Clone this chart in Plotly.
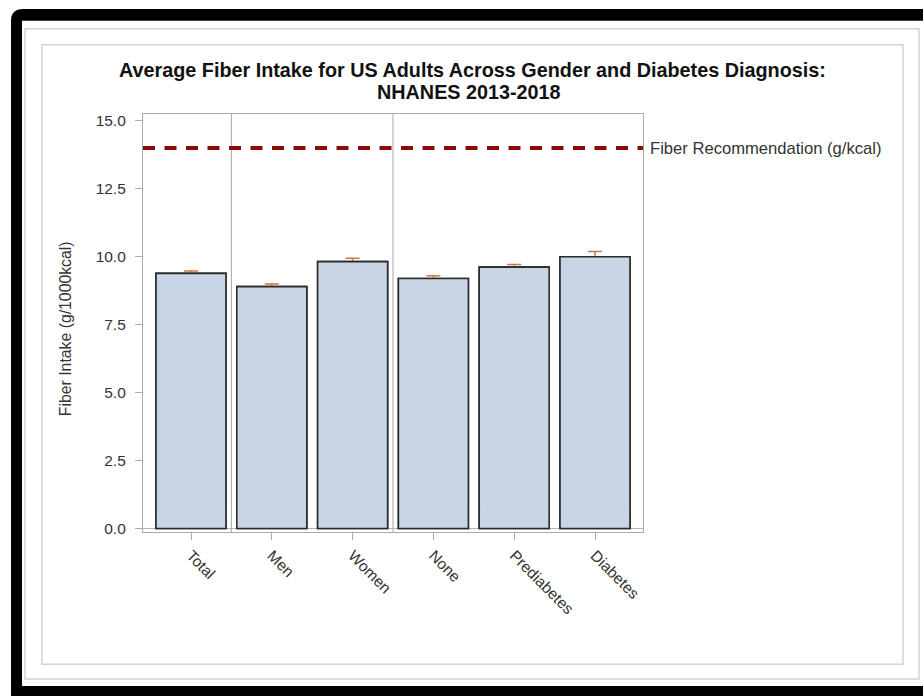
import plotly.graph_objects as go

# Average fiber intake (g/1000kcal) by group, NHANES 2013-2018
categories = ["Total", "Men", "Women", "None", "Prediabetes", "Diabetes"]
fiber_mean = [9.39, 8.90, 9.82, 9.20, 9.62, 10.00]
fiber_se = [0.09, 0.10, 0.13, 0.10, 0.10, 0.19]
fiber_recommendation = 14.0
group_breaks = [0.5, 2.5]
y_ticks = [0.0, 2.5, 5.0, 7.5, 10.0, 12.5, 15.0]

W, H = 923, 696
FONT = "Liberation Sans, Arial, sans-serif"
TXT = "#333333"
AXIS_GRAY = "#a9a9a9"


def px_x(v):
    return v / W


def px_y(v):
    return 1 - v / H


positions = list(range(len(categories)))

fig = go.Figure()

# Bars with error whiskers, then the same bars on top so only the upper half of each whisker shows
fig.add_trace(go.Bar(
    x=positions, y=fiber_mean, width=0.866,
    marker=dict(color="#c9d4e5", line=dict(color="#2b2b2b", width=1.6)),
    error_y=dict(type="data", array=fiber_se, visible=True,
                 color="#c8784a", thickness=1.5, width=7),
    showlegend=False, hoverinfo="skip",
))
fig.add_trace(go.Bar(
    x=positions, y=fiber_mean, width=0.866,
    marker=dict(color="#c9d4e5", line=dict(color="#2b2b2b", width=1.6)),
    showlegend=False,
))

# Outer frame: black border with a rounded top-left corner
r = 12
frame_path = (
    f"M {px_x(11)},{px_y(700)} L {px_x(11)},{px_y(7 + r)} "
    f"Q {px_x(11)},{px_y(7)} {px_x(11 + r)},{px_y(7)} "
    f"L {px_x(930)},{px_y(7)} L {px_x(930)},{px_y(700)} Z"
)
shapes = [
    dict(type="path", xref="paper", yref="paper", path=frame_path,
         fillcolor="black", line=dict(width=0), layer="below"),
    dict(type="rect", xref="paper", yref="paper",
         x0=px_x(22), x1=px_x(930), y0=px_y(19), y1=px_y(690),
         fillcolor="white", line=dict(width=0), layer="below"),
    dict(type="rect", xref="paper", yref="paper",
         x0=px_x(25), x1=px_x(919), y0=px_y(27), y1=px_y(683),
         fillcolor="rgba(0,0,0,0)", line=dict(color="#d2d2d2", width=1.5), layer="below"),
    dict(type="rect", xref="paper", yref="paper",
         x0=px_x(42), x1=px_x(903), y0=px_y(43), y1=px_y(668),
         fillcolor="rgba(0,0,0,0)", line=dict(color="#d2d2d2", width=1.5), layer="below"),
]

# Group separators
for b in group_breaks:
    shapes.append(dict(type="line", xref="x", yref="y domain",
                       x0=b, x1=b, y0=0, y1=1,
                       line=dict(color="#b4b4b4", width=1.2), layer="below"))

# Recommendation reference line
shapes.append(dict(type="line", xref="x domain", yref="y",
                   x0=0, x1=1, y0=fiber_recommendation, y1=fiber_recommendation,
                   line=dict(color="#8b0a0a", width=4, dash="12px,9.5px"),
                   layer="above"))

annotations = [
    dict(text="<b>Average Fiber Intake for US Adults Across Gender and Diabetes Diagnosis:</b>",
         xref="paper", yref="paper", x=px_x(472.5), y=px_y(68.5),
         xanchor="center", yanchor="middle", showarrow=False,
         font=dict(family=FONT, size=19.8, color="#111111")),
    dict(text="<b>NHANES 2013-2018</b>",
         xref="paper", yref="paper", x=px_x(468.5), y=px_y(90.5),
         xanchor="center", yanchor="middle", showarrow=False,
         font=dict(family=FONT, size=19.8, color="#111111")),
    dict(text="Fiber Intake (g/1000kcal)", textangle=-90,
         xref="paper", yref="paper", x=px_x(65), y=px_y(330),
         xanchor="center", yanchor="middle", showarrow=False,
         font=dict(family=FONT, size=15.8, color=TXT)),
    dict(text="Fiber Recommendation (g/kcal)",
         xref="paper", yref="y", x=px_x(648), y=fiber_recommendation,
         xanchor="left", yanchor="middle", showarrow=False,
         font=dict(family=FONT, size=16.6, color=TXT)),
]

fig.update_layout(
    width=W, height=H,
    margin=dict(l=0, r=0, t=0, b=0),
    paper_bgcolor="white", plot_bgcolor="rgba(0,0,0,0)",
    barmode="overlay",
    shapes=shapes, annotations=annotations,
    font=dict(family=FONT, color=TXT),
    xaxis=dict(
        domain=[px_x(143), px_x(643)],
        range=[-0.594, 5.594],
        tickmode="array", tickvals=positions, ticktext=categories,
        tickangle=45, ticks="outside", ticklen=7, tickcolor=AXIS_GRAY,
        tickfont=dict(family=FONT, size=15.5, color=TXT),
        showline=True, mirror=True, linecolor=AXIS_GRAY, linewidth=1.2,
        showgrid=False, zeroline=False,
    ),
    yaxis=dict(
        domain=[px_y(535), px_y(113)],
        range=[-0.146, 15.255],
        tickmode="array", tickvals=y_ticks, tickformat=".1f",
        ticks="outside", ticklen=7, tickcolor=AXIS_GRAY,
        ticklabelstandoff=6,
        tickfont=dict(family=FONT, size=15.5, color=TXT),
        showline=True, mirror=True, linecolor=AXIS_GRAY, linewidth=1.2,
        showgrid=False, zeroline=True, zerolinecolor="#b4b4b4", zerolinewidth=1,
    ),
)

fig.write_html("out.html")
